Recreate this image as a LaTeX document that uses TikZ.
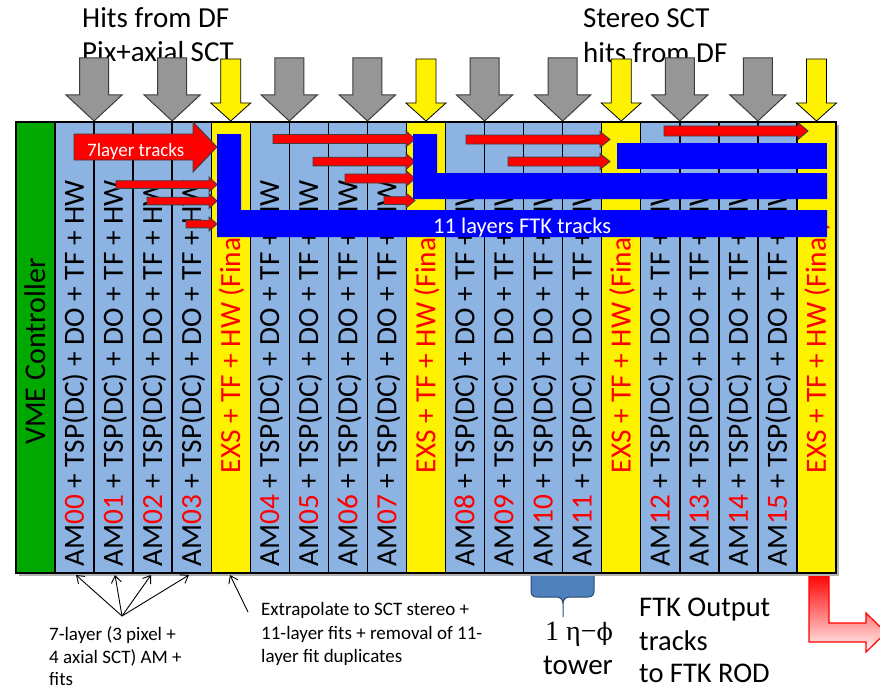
\documentclass[tikz,border=0pt]{standalone}
\usepackage{fontspec}
\setmainfont{Carlito}
\newfontfamily\greekserif{DejaVu Serif}
\newfontfamily\numserif{Liberation Serif}
\usetikzlibrary{arrows.meta}
\definecolor{amblue}{RGB}{141,179,226}
\definecolor{vmegreen}{RGB}{0,168,0}
\definecolor{arrgray}{RGB}{150,150,150}
\definecolor{arredge}{RGB}{60,60,60}
\definecolor{trkblue}{RGB}{0,0,255}
\definecolor{bracefill}{RGB}{79,129,189}
\definecolor{braceedge}{RGB}{45,75,115}
\newcommand\trackarrow[6]{%
  \draw[redarrow] (#1,#2-#4) -- (#3-#6,#2-#4) -- (#3-#6,#2-#5) -- (#3,#2)
    -- (#3-#6,#2+#5) -- (#3-#6,#2+#4) -- (#1,#2+#4) -- cycle;}
\newcommand\grayin[1]{%
  \draw[grayarrow] (#1-14.5,58) -- (#1+14.5,58) -- (#1+14.5,95) -- (#1+28,95)
    -- (#1,121) -- (#1-28,95) -- (#1-14.5,95) -- cycle;}
\newcommand\yellowin[1]{%
  \draw[yellowarrow] (#1-10,59) -- (#1+10,59) -- (#1+10,103) -- (#1+20,103)
    -- (#1,121) -- (#1-20,103) -- (#1-10,103) -- cycle;}
\begin{document}
\begin{tikzpicture}[x=1pt,y=-1pt,
  toptext/.style={anchor=base west,inner sep=0pt,font=\fontsize{29}{34}\selectfont},
  amtext/.style={anchor=base west,inner sep=0pt,rotate=90,font=\fontsize{29.3}{35}\selectfont},
  exstext/.style={anchor=base,inner sep=0pt,rotate=90,text=red,font=\fontsize{29.3}{35}\selectfont},
  vmetext/.style={anchor=base,inner sep=0pt,rotate=90,font=\fontsize{30}{36}\selectfont},
  note/.style={anchor=base west,inner sep=0pt,font=\fontsize{19}{23}\selectfont},
  bignote/.style={anchor=base west,inner sep=0pt,font=\fontsize{28.5}{34}\selectfont},
  grayarrow/.style={fill=arrgray,draw=arredge,line width=1pt,line join=miter},
  yellowarrow/.style={fill=yellow,draw=black,line width=0.8pt,line join=miter},
  redarrow/.style={fill=red,draw=black!75,line width=0.9pt,line join=miter},
  trackbar/.style={fill=trkblue},
  pointer/.style={draw=black,line width=0.9pt,-{Straight Barb[length=7pt,width=10pt]}},
]
\clip (0,0) rectangle (880,690);
\useasboundingbox (0,0) rectangle (880,690);

% top labels
\node[toptext] (hits1) at (82,28) {Hits from DF};
\node[toptext] (hits2) at (82,62) {Pix+axial SCT};
\node[toptext] (ster1) at (583,28) {Stereo SCT};
\node[toptext] (ster2) at (583,63) {hits from DF};

% input arrows
\foreach \b in {1,3,6,8,11,13,16,18} {
  \pgfmathsetmacro\bx{55+\b*39.05}
  \grayin{\bx}
}
\foreach \c in {4,9,14,19} {
  \pgfmathsetmacro\cx{55+(\c+0.5)*39.05}
  \yellowin{\cx}
}

% output arrow
\shade[top color=red,bottom color=red!4,draw=red,line width=1.2pt,line join=miter]
  (809,574) -- (829,574) -- (829,623) -- (866,623) -- (866,613) -- (886,632.5)
  -- (866,652) -- (866,642) -- (809,642) -- cycle;

% crate
\fill[black!30] (19,125) rectangle (839,576);
\fill[vmegreen] (16,122) rectangle (55,573);
\foreach \c in {0,...,19} {
  \pgfmathsetmacro\xl{55+\c*39.05}
  \pgfmathsetmacro\xr{55+(\c+1)*39.05}
  \fill[amblue] (\xl,122) rectangle (\xr,573);
}
\foreach \c in {4,9,14,19} {
  \pgfmathsetmacro\xl{55+\c*39.05}
  \pgfmathsetmacro\xr{55+(\c+1)*39.05}
  \fill[yellow] (\xl,122) rectangle (\xr,573);
}
\foreach \c in {0,...,19} {
  \pgfmathsetmacro\xl{55+\c*39.05}
  \draw[line width=1.4pt] (\xl,122) -- (\xl,573);
}
\draw[line width=2pt] (16,122) rectangle (836,573);

% column texts
\node[vmetext] (vme) at (45,351.5) {VME Controller};
\foreach \c/\n in {0/00,1/01,2/02,3/03,5/04,6/05,7/06,8/07,10/08,11/09,12/10,13/11,15/12,16/13,17/14,18/15} {
  \pgfmathsetmacro\tx{55+(\c+0.5)*39.05+9.4}
  \node[amtext] (am\n) at (\tx,567) {AM\textcolor{red}{\n} + TSP(DC) + DO + TF + HW};
}
\foreach \c in {4,9,14,19} {
  \pgfmathsetmacro\tx{55+(\c+0.5)*39.05+9.4}
  \node[exstext] (exs\c) at (\tx,347.5) {EXS + TF + HW (Final)};
}

% 7-layer track arrows
\trackarrow{74}{147}{217}{13}{25}{24}
\trackarrow{116}{184.5}{217}{3.8}{7.5}{8}
\trackarrow{147}{201}{217}{3.8}{7.5}{8}
\trackarrow{186}{224}{217}{3.8}{7}{8}
\trackarrow{273}{139}{415}{4.5}{8}{9}
\trackarrow{313}{161.5}{415}{4.3}{8}{9}
\trackarrow{345}{178.5}{415}{4.5}{8}{9}
\trackarrow{384}{200.5}{415}{3.8}{7.5}{9}
\trackarrow{466}{139.5}{610}{4.5}{8}{10}
\trackarrow{508}{161.5}{610}{4.5}{8}{10}
\trackarrow{664}{131}{808}{5}{8.5}{10}
\node[anchor=base west,inner sep=0pt,text=white,font=\fontsize{19}{23}\selectfont] (seven) at (87,157) {7layer tracks};

% 11-layer track bars
\fill[trackbar] (217,134) -- (241,134) -- (241,210) -- (827,210) -- (827,237) -- (217,237) -- cycle;
\fill[trackbar] (413,134) -- (437,134) -- (437,173) -- (827,173) -- (827,199) -- (413,199) -- cycle;
\fill[trackbar] (617,143) rectangle (827,169);
\node[anchor=base west,inner sep=0pt,text=white,font=\fontsize{22.5}{27}\selectfont] (eleven) at (433,233) {11 layers FTK tracks};

% annotations
\coordinate (amfoot) at (122,616);
\coordinate (t0) at (76,575);
\coordinate (t1) at (115,575);
\coordinate (t2) at (151,575);
\coordinate (t3) at (189,575);
\foreach \t in {t0,t1,t2,t3} \draw[pointer] (amfoot) -- (\t);
\coordinate (exfoot) at (248,612);
\coordinate (extip) at (230,575);
\draw[pointer] (exfoot) -- (extip);

\node[note] (n1a) at (49,640) {7-layer (3 pixel +};
\node[note] (n1b) at (49,663) {4 axial SCT) AM +};
\node[note] (n1c) at (49,685) {fits};
\node[note] (n2a) at (261,615) {Extrapolate to SCT stereo +};
\node[note] (n2b) at (261,639) {11-layer fits + removal of 11-};
\node[note] (n2c) at (261,662) {layer fit duplicates};

% tower brace
\fill[bracefill] (531,576) -- (531,591) .. controls (531,595) and (533,597) .. (537,597)
  -- (556,597) .. controls (560,597) and (563,599) .. (563,604)
  .. controls (563,599) and (566,597) .. (570,597) -- (588,597)
  .. controls (592,597) and (594,595) .. (594,591) -- (594,576) -- cycle;
\draw[braceedge,line width=1pt] (531,576) -- (531,591) .. controls (531,595) and (533,597) .. (537,597)
  -- (556,597) .. controls (560,597) and (563,599) .. (563,604) -- (563,617)
  (563,604) .. controls (563,599) and (566,597) .. (570,597) -- (588,597)
  .. controls (592,597) and (594,595) .. (594,591) -- (594,576);
\node[anchor=base west,inner sep=0pt,font=\fontsize{28}{34}\selectfont] (eta) at (545,640)
  {{\numserif 1 η−}{\greekserif\fontsize{24}{30}\selectfont ϕ}};
\node[anchor=base west,inner sep=0pt,font=\fontsize{29}{34}\selectfont] (tower) at (543,674) {tower};

\node[bignote] (out1) at (639,616) {FTK Output};
\node[bignote] (out2) at (639,650) {tracks};
\node[bignote] (out3) at (639,682) {to FTK ROD};
\end{tikzpicture}
\end{document}
